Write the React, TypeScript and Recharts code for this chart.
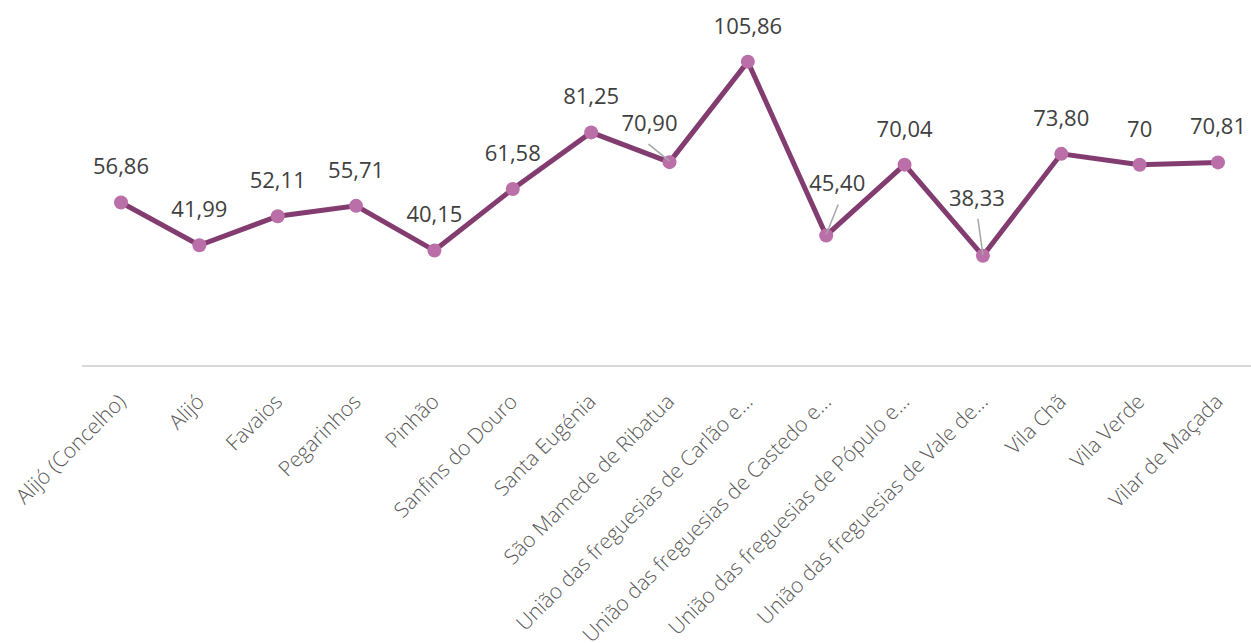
import { LineChart, Line, XAxis, YAxis, LabelList } from 'recharts';

const freguesias = [
  'Alijó (Concelho)',
  'Alijó',
  'Favaios',
  'Pegarinhos',
  'Pinhão',
  'Sanfins do Douro',
  'Santa Eugénia',
  'São Mamede de Ribatua',
  'União das freguesias de Carlão e...',
  'União das freguesias de Castedo e...',
  'União das freguesias de Pópulo e...',
  'União das freguesias de Vale de...',
  'Vila Chã',
  'Vila Verde',
  'Vilar de Maçada',
];

const valores = [56.86, 41.99, 52.11, 55.71, 40.15, 61.58, 81.25, 70.9, 105.86, 45.4, 70.04, 38.33, 73.8, 70, 70.81];

// labels that Excel moved away from the point, with a leader line
const labelShift: { [i: number]: { dx: number; dy: number; lead: [number, number] } } = {
  7: { dx: -20, dy: -3, lead: [-21, -18] },
  9: { dx: 11, dy: -16, lead: [12, -31] },
  11: { dx: -6, dy: -22, lead: [-5, -37] },
};

const data = freguesias.map((nome, i) => ({ nome, valor: valores[i] }));

const fmt = (v: number) => (Number.isInteger(v) ? String(v) : v.toFixed(2).replace('.', ','));

const AxisTick = (props: any) => {
  const { x, y, payload } = props;
  const tx = x + 6;
  const ty = y + 37;
  return (
    <text
      x={tx}
      y={ty}
      transform={`rotate(-45, ${tx}, ${ty})`}
      textAnchor="end"
      fontFamily="'Open Sans', sans-serif"
      fontSize={21}
      fontWeight={300}
      fill="#595959"
    >
      {payload.value}
    </text>
  );
};

const PointLabel = (props: any) => {
  const { x, y, index, value } = props;
  const s = labelShift[index];
  const dx = s ? s.dx : 0;
  const dy = s ? s.dy : 0;
  return (
    <g>
      {s && (
        <line x1={x + s.lead[0]} y1={y + s.lead[1]} x2={x} y2={y - 1} stroke="#a6a6a6" strokeWidth={1.5} />
      )}
      <text
        x={x + dx}
        y={y - 36 + dy}
        dy="0.36em"
        textAnchor="middle"
        fontFamily="'Open Sans', sans-serif"
        fontSize={22}
        fill="#404040"
      >
        {fmt(value)}
      </text>
    </g>
  );
};

export default function App() {
  return (
    <div style={{ position: 'absolute', left: 0, top: 0, width: 1251, height: 643, overflow: 'hidden', background: '#fff' }}>
      <LineChart width={1260} height={643} data={data} margin={{ top: 21, right: 3, bottom: 0, left: 82 }}>
        <XAxis
          dataKey="nome"
          interval={0}
          height={277}
          padding={{ left: 39, right: 39 }}
          tickLine={false}
          tickSize={0}
          tickMargin={0}
          axisLine={{ stroke: '#d9d9d9', strokeWidth: 2 }}
          tick={<AxisTick />}
        />
        <YAxis hide domain={[0, 120]} />
        <Line
          type="linear"
          dataKey="valor"
          stroke="#833c6f"
          strokeWidth={5}
          dot={{ r: 7, fill: '#bb6fa9', stroke: 'none' }}
          activeDot={false}
          isAnimationActive={false}
        >
          <LabelList dataKey="valor" content={<PointLabel />} />
        </Line>
      </LineChart>
    </div>
  );
}
